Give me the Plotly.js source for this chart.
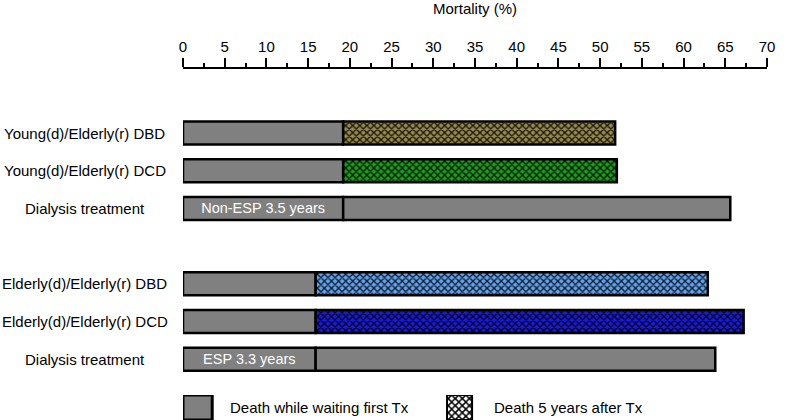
<!DOCTYPE html>
<html>
<head>
<meta charset="utf-8">
<script src="https://cdn.plot.ly/plotly-3.0.1.min.js"></script>
<style>html,body{margin:0;padding:0;background:#fff;}#chart{width:800px;height:420px;}</style>
</head>
<body>
<div id="chart"></div>
<script>
// ---- data ----
const categories = ['Young(d)/Elderly(r) DBD', 'Young(d)/Elderly(r) DCD', 'Dialysis treatment',
                    'Elderly(d)/Elderly(r) DBD', 'Elderly(d)/Elderly(r) DCD', 'Dialysis treatment'];
const groupIndex = [0, 0, 0, 1, 1, 1];
const waitingMortality = [19.2, 19.2, 19.2, 15.9, 15.9, 15.9];
const afterTxMortality = [32.6, 32.8, 46.4, 47.0, 51.3, 47.9];
const waitingLabels = ['', '', 'Non-ESP 3.5 years', '', '', 'ESP 3.3 years'];
const afterTxColors = ['#978a4c', '#1f9a1f', '#808080', '#62a2ee', '#1a1ad8', '#808080'];
const afterTxHatched = [true, true, false, true, true, false];
const legendNames = ['Death while waiting first Tx', 'Death 5 years after Tx'];
const xTickValues = [0, 5, 10, 15, 20, 25, 30, 35, 40, 45, 50, 55, 60, 65, 70];

// ---- styling ----
const FONT = 'Liberation Sans, Arial, sans-serif';
const GRAY = '#808080';
const rowPos = categories.map((c, i) => i + groupIndex[i]);

const traces = [
  {
    type: 'bar', orientation: 'h', xaxis: 'x', yaxis: 'y',
    y: rowPos, x: waitingMortality, base: rowPos.map(() => 0), width: 0.61,
    name: legendNames[0], showlegend: false, hoverinfo: 'skip',
    marker: {color: GRAY, line: {color: '#000', width: 2.5}},
    text: waitingLabels, textposition: 'inside', insidetextanchor: 'middle',
    textangle: 0, constraintext: 'none',
    textfont: {family: FONT, size: 14.5, color: '#fff'}
  },
  {
    type: 'bar', orientation: 'h', xaxis: 'x', yaxis: 'y',
    y: rowPos, x: afterTxMortality, base: waitingMortality, width: 0.61,
    name: legendNames[1], showlegend: false, hoverinfo: 'skip',
    marker: {color: afterTxColors, line: {color: '#000', width: 2.5}}
  },
  {
    // black cross-hatch drawn over the coloured segments
    type: 'bar', orientation: 'h', xaxis: 'x', yaxis: 'y',
    y: rowPos, x: afterTxMortality, base: waitingMortality, width: 0.56,
    name: legendNames[1] + ' hatch', showlegend: false, hoverinfo: 'skip',
    marker: {
      color: 'rgba(0,0,0,0)', line: {width: 0},
      pattern: {
        shape: afterTxHatched.map(h => h ? 'x' : ''),
        fillmode: 'overlay', fgcolor: '#000', fgopacity: 0.85,
        size: 5, solidity: 0.45
      }
    }
  },
  // legend swatches (own small subplot)
  {
    type: 'bar', orientation: 'h', xaxis: 'x2', yaxis: 'y2',
    y: [0], x: [3.5], base: [0], width: 1, showlegend: false, hoverinfo: 'skip',
    marker: {color: GRAY, line: {color: '#000', width: 3}}
  },
  {
    type: 'bar', orientation: 'h', xaxis: 'x2', yaxis: 'y2',
    y: [0], x: [3.0], base: [31.65], width: 1, showlegend: false, hoverinfo: 'skip',
    marker: {color: '#fff', line: {color: '#000', width: 2},
             pattern: {shape: 'x', fillmode: 'overlay', fgcolor: '#000', fgopacity: 1, size: 5, solidity: 0.5}}
  }
];

const annotations = categories.map((c, i) => ({
  xref: 'paper', yref: 'y', x: -0.168, y: rowPos[i],
  text: c, showarrow: false, xanchor: 'center', yanchor: 'middle',
  font: {family: FONT, size: 15, color: '#000'}
}));
annotations.push(
  {xref: 'x2', yref: 'y2', x: 5.4, y: 0, text: legendNames[0], showarrow: false,
   xanchor: 'left', yanchor: 'middle', font: {family: FONT, size: 15, color: '#000'}},
  {xref: 'x2', yref: 'y2', x: 37.0, y: 0, text: legendNames[1], showarrow: false,
   xanchor: 'left', yanchor: 'middle', font: {family: FONT, size: 15, color: '#000'}}
);

const layout = {
  width: 800, height: 420,
  margin: {l: 183, r: 33, t: 69, b: 0, pad: 0},
  paper_bgcolor: '#fff', plot_bgcolor: '#fff',
  barmode: 'overlay', bargap: 0,
  showlegend: false,
  font: {family: FONT, size: 15, color: '#000'},
  title: {text: 'Mortality (%)', x: 0.5, xref: 'paper', xanchor: 'center',
          y: 0.98, yref: 'container', yanchor: 'middle',
          font: {family: FONT, size: 15, color: '#000'}},
  xaxis: {
    side: 'top', anchor: 'y', domain: [0, 1], range: [0, 70],
    tickmode: 'array', tickvals: xTickValues, ticktext: xTickValues.map(String),
    ticks: 'outside', ticklen: 9, tickwidth: 2, tickcolor: '#000',
    minor: {dtick: 2.5, tick0: 0, ticks: 'outside', ticklen: 4, tickwidth: 2, tickcolor: '#000'},
    showline: true, linecolor: '#000', linewidth: 2.5,
    showgrid: false, zeroline: false, fixedrange: true,
    tickfont: {family: FONT, size: 15, color: '#000'}
  },
  yaxis: {
    anchor: 'x', domain: [0.1197, 1], range: [6.5, -1.70],
    showticklabels: false, ticks: '', showline: false, showgrid: false, zeroline: false
  },
  xaxis2: {anchor: 'y2', domain: [0, 1], range: [0, 70], visible: false},
  yaxis2: {anchor: 'x2', domain: [0, 0.0712], range: [-0.5, 0.5], visible: false},
  annotations: annotations
};

Plotly.newPlot('chart', traces, layout, {staticPlot: true, displayModeBar: false});
</script>
</body>
</html>
